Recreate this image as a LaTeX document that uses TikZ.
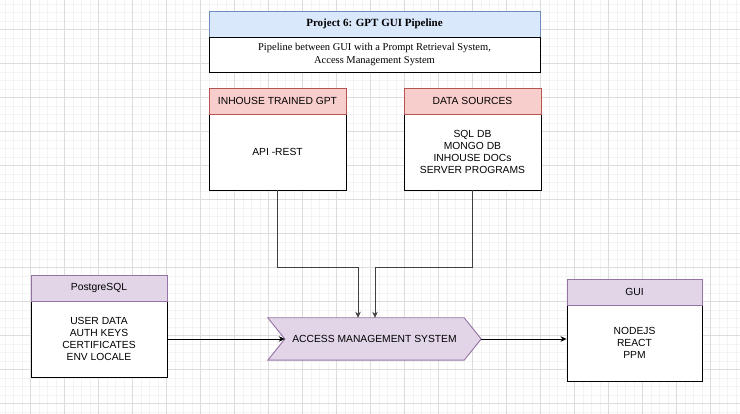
\documentclass[tikz,border=0pt]{standalone}
\usepackage{fontspec}
\setmainfont{Liberation Serif}
\newfontfamily\sansf{Liberation Sans}
\usetikzlibrary{arrows.meta}
\definecolor{bluefill}{HTML}{DAE8FC}
\definecolor{bluedraw}{HTML}{6C8EBF}
\definecolor{redfill}{HTML}{F8CECC}
\definecolor{reddraw}{HTML}{B85450}
\definecolor{purpfill}{HTML}{E1D5E7}
\definecolor{purpdraw}{HTML}{9673A6}
\definecolor{minorgrid}{HTML}{F3F3F3}
\definecolor{majorgrid}{HTML}{DDDDDD}
\tikzset{
  box/.style={draw=black, line width=0.9pt, fill=white, inner sep=0pt, align=center,
    font=\sansf\fontsize{10.3}{12.2}\selectfont},
  hdr/.style={box, line width=0.9pt},
  conn/.style={line width=0.8pt, draw=black!75, -{Stealth[length=6pt,width=5.5pt]}},
}
\begin{document}
\begin{tikzpicture}[x=1pt,y=-1pt]
\useasboundingbox (0,0) rectangle (740,414);
\fill[white] (0,0) rectangle (740,414);
% grid
\foreach \i in {0,...,86} {
  \pgfmathsetmacro\xx{5.2+8.5*\i}
  \draw[minorgrid, line width=0.5pt] (\xx,0) -- (\xx,414);
}
\foreach \i in {0,...,48} {
  \pgfmathsetmacro\yy{3.8+8.5*\i}
  \draw[minorgrid, line width=0.5pt] (0,\yy) -- (740,\yy);
}
\foreach \i in {0,...,21} {
  \pgfmathsetmacro\xx{30.7+34*\i}
  \draw[majorgrid, line width=0.6pt] (\xx,0) -- (\xx,414);
}
\foreach \i in {0,...,12} {
  \pgfmathsetmacro\yy{29.3+34*\i}
  \draw[majorgrid, line width=0.6pt] (0,\yy) -- (740,\yy);
}
% title
\node[hdr, fill=bluefill, draw=bluedraw, minimum width=331pt, minimum height=26pt,
  font=\bfseries\fontsize{11}{13}\selectfont] (title) at (374.5,24) {Project 6: GPT GUI Pipeline};
\node[box, minimum width=331pt, minimum height=35pt,
  font=\fontsize{10.5}{13.3}\selectfont] (titlebody) at (374.5,54.5)
  {Pipeline between GUI with a Prompt Retrieval System,\\Access Management System};
% inhouse gpt
\node[box, minimum width=137pt, minimum height=76pt] (gptbody) at (277.5,152) {API -REST};
\node[hdr, fill=redfill, draw=reddraw, minimum width=137pt, minimum height=26pt] (gpt) at (277.5,101) {INHOUSE TRAINED GPT};
% data sources
\node[box, minimum width=137pt, minimum height=76pt] (dsbody) at (472.5,152) {SQL DB\\MONGO DB\\INHOUSE DOCs\\SERVER PROGRAMS};
\node[hdr, fill=redfill, draw=reddraw, minimum width=137pt, minimum height=26pt] (ds) at (472.5,101) {DATA SOURCES};
% postgres
\node[box, minimum width=136pt, minimum height=76pt] (pgbody) at (99,339) {USER DATA\\AUTH KEYS\\CERTIFICATES\\ENV LOCALE};
\node[hdr, fill=purpfill, draw=purpdraw, minimum width=136pt, minimum height=26pt] (pg) at (99,288) {PostgreSQL};
% gui
\node[box, minimum width=135pt, minimum height=76pt] (guibody) at (634.5,343) {NODEJS\\REACT\\PPM};
\node[hdr, fill=purpfill, draw=purpdraw, minimum width=135pt, minimum height=26pt] (gui) at (634.5,292) {GUI};
% access management system
\node[inner sep=0pt, minimum width=213pt, minimum height=42pt,
  font=\sansf\fontsize{10.3}{12.2}\selectfont] (ams) at (374.5,339) {};
\coordinate (notch) at ([xshift=17pt]ams.west);
\fill[purpfill, draw=purpdraw, line width=0.9pt]
  (ams.north west) -- ([xshift=-17pt]ams.north east) -- (ams.east)
  -- ([xshift=-17pt]ams.south east) -- (ams.south west) -- (notch) -- cycle;
\node[font=\sansf\fontsize{10.3}{12.2}\selectfont, inner sep=0pt] (amslabel) at (ams.center) {ACCESS MANAGEMENT SYSTEM};
\coordinate (in1) at ([xshift=-16.5pt]ams.north);
\coordinate (in2) at ([xshift=0.5pt]ams.north);
% connectors
\draw[conn] (gptbody.south) -- ++(0,77) -| (in1);
\draw[conn] (dsbody.south) -- ++(0,77) -| (in2);
\draw[conn, draw=black] (pgbody.east |- notch) -- (notch);
\draw[conn, draw=black] (ams.east) -- (ams.east -| guibody.west);
\end{tikzpicture}
\end{document}
